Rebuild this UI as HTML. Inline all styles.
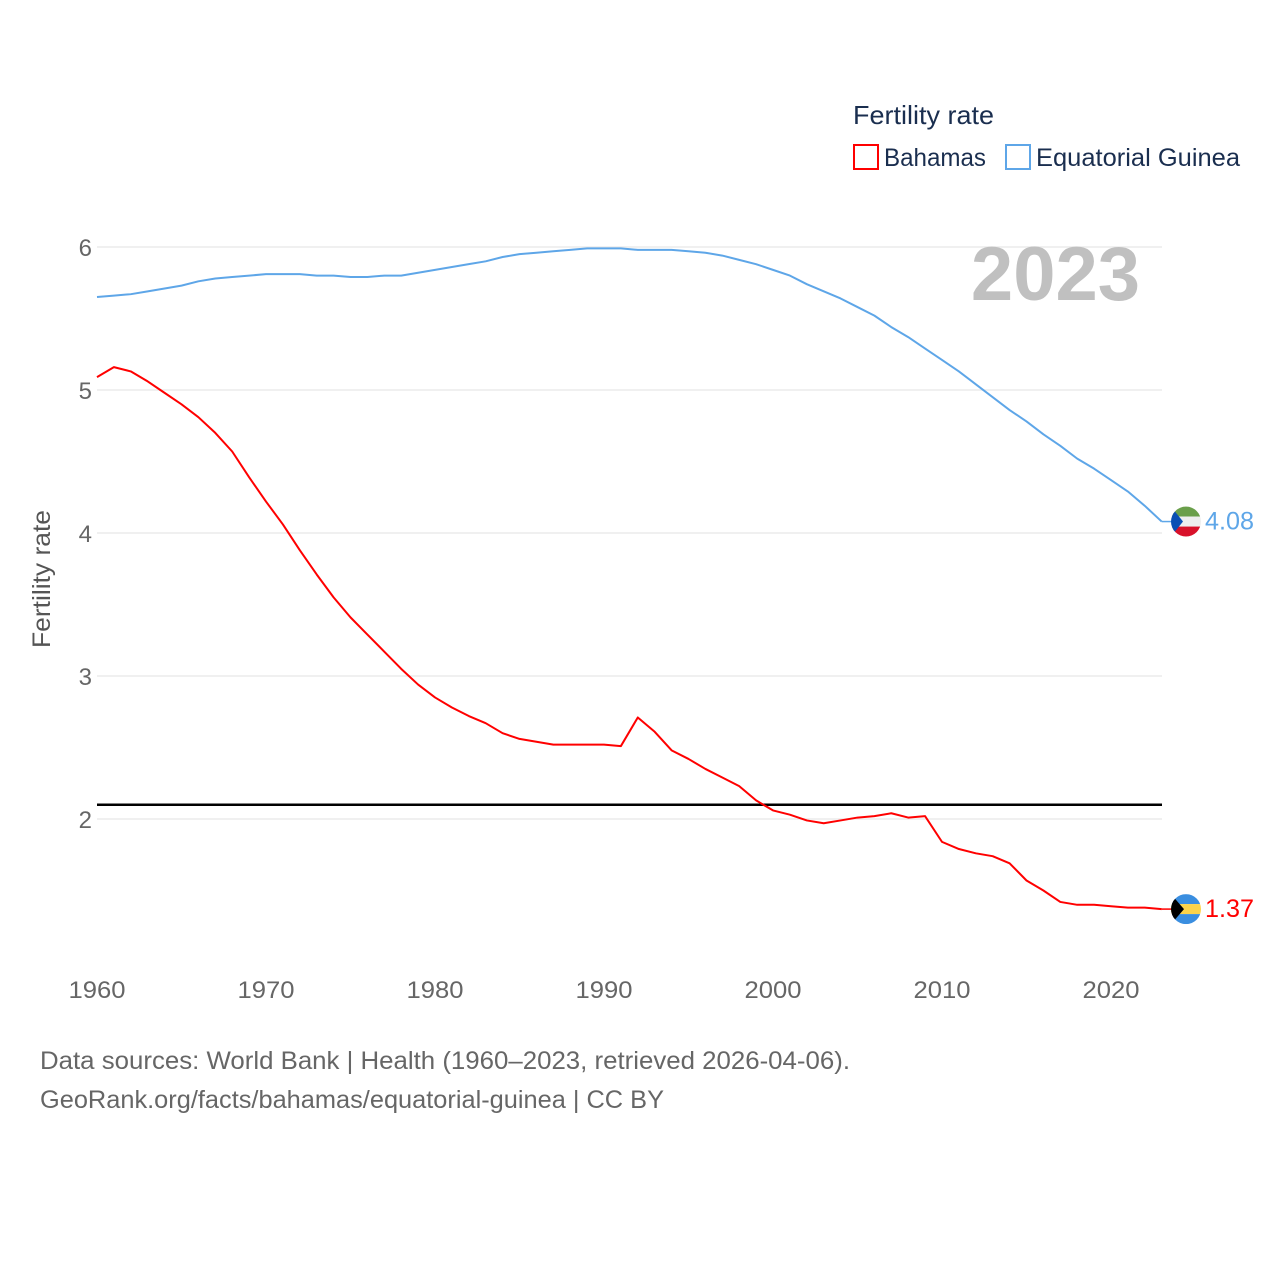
<!DOCTYPE html>
<html><head><meta charset="utf-8"><style>
html,body{margin:0;padding:0;background:#fff;}
svg{display:block;font-family:"Liberation Sans",sans-serif;}
</style></head><body>
<svg id="chart" width="1280" height="1280" viewBox="0 0 1280 1280">
<g id="grid"></g>
<g id="axes"></g>
<text x="1140" y="300" text-anchor="end" font-size="76" font-weight="bold" fill="#c0c0c0">2023</text>
<g id="series"></g>
<text transform="translate(50,579) rotate(-90)" text-anchor="middle" font-size="25" fill="#555" textLength="138" lengthAdjust="spacingAndGlyphs">Fertility rate</text>
<g>
<text x="853" y="124" font-size="26" fill="#1a2e4f" textLength="141" lengthAdjust="spacingAndGlyphs">Fertility rate</text>
<g>
<rect x="854" y="145" width="24" height="24" fill="none" stroke="#f00" stroke-width="2"/>
<text x="884" y="166" font-size="25" fill="#1a2e4f" textLength="102" lengthAdjust="spacingAndGlyphs">Bahamas</text></g>
<g>
<rect x="1006" y="145" width="24" height="24" fill="none" stroke="#5ea6e8" stroke-width="2"/>
<text x="1036" y="166" font-size="25" fill="#1a2e4f" textLength="204" lengthAdjust="spacingAndGlyphs">Equatorial Guinea</text></g>
</g>
<text x="40" y="1069" font-size="25" fill="#666" textLength="810" lengthAdjust="spacingAndGlyphs">Data sources: World Bank | Health (1960–2023, retrieved 2026-04-06).</text>
<text x="40" y="1108" font-size="25" fill="#666" textLength="624" lengthAdjust="spacingAndGlyphs">GeoRank.org/facts/bahamas/equatorial-guinea | CC BY</text>
</svg>
<script>
const years=[];for(let y=1960;y<=2023;y++)years.push(y);
const bahamas=[5.09,5.16,5.13,5.06,4.98,4.90,4.81,4.70,4.57,4.39,4.22,4.06,3.88,3.71,3.55,3.41,3.29,3.17,3.05,2.94,2.85,2.78,2.72,2.67,2.60,2.56,2.54,2.52,2.52,2.52,2.52,2.51,2.71,2.61,2.48,2.42,2.35,2.29,2.23,2.13,2.06,2.03,1.99,1.97,1.99,2.01,2.02,2.04,2.01,2.02,1.84,1.79,1.76,1.74,1.69,1.57,1.50,1.42,1.40,1.40,1.39,1.38,1.38,1.37];
const eqGuinea=[5.65,5.66,5.67,5.69,5.71,5.73,5.76,5.78,5.79,5.80,5.81,5.81,5.81,5.80,5.80,5.79,5.79,5.80,5.80,5.82,5.84,5.86,5.88,5.90,5.93,5.95,5.96,5.97,5.98,5.99,5.99,5.99,5.98,5.98,5.98,5.97,5.96,5.94,5.91,5.88,5.84,5.80,5.74,5.69,5.64,5.58,5.52,5.44,5.37,5.29,5.21,5.13,5.04,4.95,4.86,4.78,4.69,4.61,4.52,4.45,4.37,4.29,4.19,4.08];
const yTicks=[2,3,4,5,6];
const xTicks=[1960,1970,1980,1990,2000,2010,2020];
const replacement=[2.1];
const NS="http://www.w3.org/2000/svg";
const X=y=>97+(y-1960)*(1161.7-97)/63;
const Y=v=>247+(6-v)*143;
function mk(tag,attrs,parent){const e=document.createElementNS(NS,tag);for(const k in attrs)e.setAttribute(k,attrs[k]);parent.appendChild(e);return e;}
const grid=document.getElementById('grid'),axes=document.getElementById('axes'),series=document.getElementById('series');
yTicks.forEach(t=>{
  const l=mk('line',{x1:97,x2:1162,y1:Y(t),y2:Y(t),stroke:'#ececec','stroke-width':1.5},grid);
  
  
  const tx=mk('text',{x:92,y:Y(t)+9,'text-anchor':'end','font-size':24,fill:'#666'},axes);
  tx.textContent=t;
  
  
});
xTicks.forEach(t=>{
  const tx=mk('text',{x:X(t),y:998,'text-anchor':'middle','font-size':24,fill:'#666',textLength:57,lengthAdjust:'spacingAndGlyphs'},axes);
  tx.textContent=t;
  
  
});
const ref=mk('line',{x1:97,x2:1162,y1:Y(replacement[0]),y2:Y(replacement[0]),stroke:'#000','stroke-width':2.5},series);


function line(vals,color,name){
  const p=mk('polyline',{points:vals.map((v,i)=>X(years[i])+','+Y(v)).join(' '),fill:'none',stroke:color,'stroke-width':2,'stroke-linejoin':'round'},series);
  
  
}
line(eqGuinea,'#5ea6e8','line-equatorial-guinea');
line(bahamas,'#f00','line-bahamas');
function endLabel(vals,color,name,flag){
  const v=vals[vals.length-1],cx=1186,cy=Y(v);
  const g=mk('g',{},series);
  
  
  mk('line',{x1:X(2023),x2:cx-14,y1:cy,y2:cy,stroke:color,'stroke-width':1.5},g);
  const cp=mk('clipPath',{id:'c'+name},g);mk('circle',{cx:cx,cy:cy,r:15},cp);
  const f=mk('g',{'clip-path':'url(#c'+name+')'},g);
  flag(f,cx,cy);
  const t=mk('text',{x:1205,y:cy+8,'font-size':25,fill:color,textLength:49,lengthAdjust:'spacingAndGlyphs'},g);
  t.textContent=v.toFixed(2);
  
  
}
endLabel(eqGuinea,'#5ea6e8','equatorial-guinea',(f,cx,cy)=>{
  mk('rect',{x:cx-15,y:cy-15,width:30,height:10,fill:'#6a9f4a'},f);
  mk('rect',{x:cx-15,y:cy-5,width:30,height:10,fill:'#eee'},f);
  mk('rect',{x:cx-15,y:cy+5,width:30,height:10,fill:'#d8112a'},f);
  mk('polygon',{points:(cx-15)+','+(cy-15)+' '+(cx-3)+','+cy+' '+(cx-15)+','+(cy+15),fill:'#0a4fb4'},f);
});
endLabel(bahamas,'#f00','bahamas',(f,cx,cy)=>{
  mk('rect',{x:cx-15,y:cy-15,width:30,height:10,fill:'#3a8ee0'},f);
  mk('rect',{x:cx-15,y:cy-5,width:30,height:10,fill:'#fcd34a'},f);
  mk('rect',{x:cx-15,y:cy+5,width:30,height:10,fill:'#3a8ee0'},f);
  mk('polygon',{points:(cx-15)+','+(cy-15)+' '+(cx-2)+','+cy+' '+(cx-15)+','+(cy+15),fill:'#000'},f);
});
</script>
</body></html>
